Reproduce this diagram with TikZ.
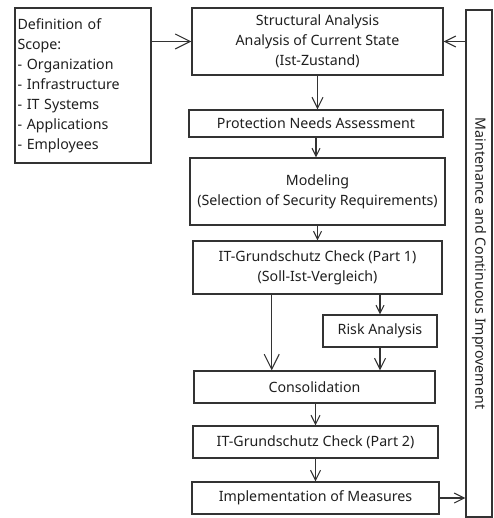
\documentclass[tikz,border=0pt]{standalone}
\usepackage{fontspec}
\setmainfont{Noto Sans}
\usetikzlibrary{arrows.meta,calc}
\begin{document}
\begin{tikzpicture}[x=1pt,y=-1pt,
  txt/.style={text=black!88,font=\fontsize{14.2}{20}\selectfont},
  box/.style={txt,draw=black!80,line width=1.1pt,inner sep=0pt,align=center},
  arr/.style={draw=black!80,line width=1.1pt,-{Straight Barb[length=#1pt,width=#1pt]}},
  arr/.default=9]
\useasboundingbox (0,0) rectangle (493,518);
\node[box,minimum width=136pt,minimum height=155pt,align=left,text width=131pt] (scope) at (83,85.5)
  {Definition of\\Scope:\\- Organization\\- Infrastructure\\- IT Systems\\- Applications\\- Employees};
\node[box,minimum width=251pt,minimum height=67pt] (struct) at (317.5,41.5)
  {Structural Analysis\\Analysis of Current State\\(Ist-Zustand)};
\node[box,minimum width=254pt,minimum height=27pt] (prot) at (316,123.5)
  {Protection Needs Assessment};
\node[box,minimum width=255pt,minimum height=67pt] (model) at (317.5,191.5)
  {Modeling\\(Selection of Security Requirements)};
\node[box,minimum width=249pt,minimum height=53pt] (itone) at (317.5,267.5)
  {IT-Grundschutz Check (Part 1)\\(Soll-Ist-Vergleich)};
\node[box,minimum width=114pt,minimum height=32pt] (risk) at (380,331)
  {Risk Analysis};
\node[box,minimum width=241pt,minimum height=32pt] (consol) at (314.5,387)
  {Consolidation};
\node[box,minimum width=245pt,minimum height=32pt] (ittwo) at (315.5,442)
  {IT-Grundschutz Check (Part 2)};
\node[box,minimum width=247pt,minimum height=32pt] (impl) at (315.5,498)
  {Implementation of Measures};
\node[box,minimum width=26pt,minimum height=507pt] (maint) at (479,263.5) {};
\node[txt,rotate=-90] (mainttext) at (maint.center)
  {Maintenance and Continuous Improvement};
% connectors
\draw[arr=15] (scope.east |- struct.west) -- (struct.west);
\draw[arr=11] (struct.south) -- (struct.south |- prot.north);
\draw[arr=8] (prot.south) -- (prot.south |- model.north);
\draw[arr=8] (model.south) -- (model.south |- itone.north);
\coordinate (ioff) at ($(itone.south west)!0.317!(itone.south east)$);
\draw[arr=15] (ioff) -- (ioff |- consol.north);
\draw[arr=8] (itone.south -| risk.north) -- (risk.north);
\draw[arr=11] (risk.south) -- (risk.south |- consol.north);
\draw[arr=9] (consol.south -| ittwo.north) -- (ittwo.north);
\draw[arr=10] (ittwo.south) -- (ittwo.south |- impl.north);
\draw[arr=11] (maint.west |- struct.east) -- (struct.east);
\draw[arr=10] (impl.east) -- (impl.east -| maint.west);
\end{tikzpicture}
\end{document}
